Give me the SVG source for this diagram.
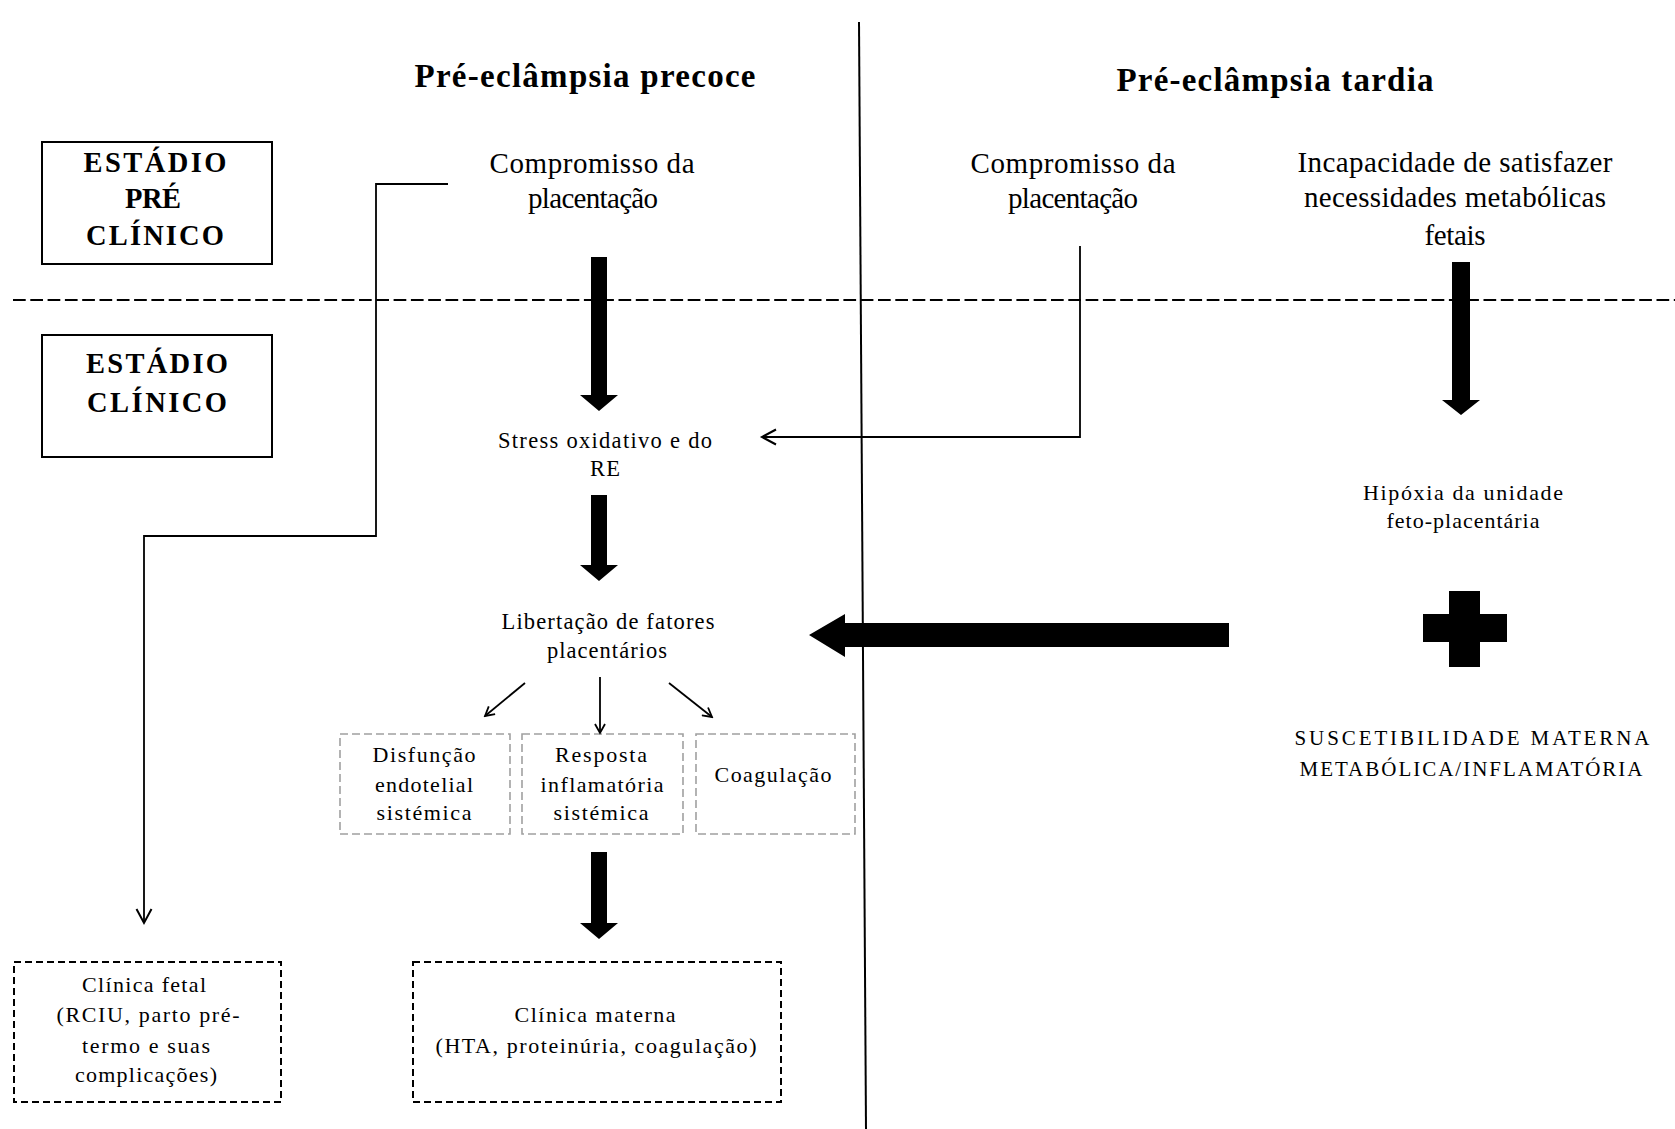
<svg xmlns="http://www.w3.org/2000/svg" width="1675" height="1129" viewBox="0 0 1675 1129">
<style>
  text { font-family: "Liberation Serif", "Times New Roman", serif; fill: #000; text-anchor: middle; }
  .title { font-size: 33px; font-weight: bold; }
  .stage { font-size: 28.5px; font-weight: bold; }
  .big { font-size: 29px; }
  .mid { font-size: 22.5px; }
  .small { font-size: 22px; }
  .caps { font-size: 21px; }
  .solidbox { fill: none; stroke: #000; stroke-width: 2; }
  .graybox { fill: none; stroke: #a0a0a0; stroke-width: 1.6; stroke-dasharray: 8 4; }
  .blackdash { fill: none; stroke: #000; stroke-width: 2; stroke-dasharray: 7 4; }
  .thin { fill: none; stroke: #000; stroke-width: 1.8; }
  .thick { fill: #000; stroke: none; }
</style>
<defs>
  <marker id="open" markerWidth="12" markerHeight="12" refX="10" refY="6" orient="auto" markerUnits="userSpaceOnUse">
    <path d="M1,1 L10,6 L1,11" fill="none" stroke="#000" stroke-width="1.8"/>
  </marker>
  <marker id="openBig" markerWidth="18" markerHeight="18" refX="15" refY="9" orient="auto" markerUnits="userSpaceOnUse">
    <path d="M1,1.5 L15,9 L1,16.5" fill="none" stroke="#000" stroke-width="2"/>
  </marker>
</defs>

<!-- background structure -->
<g id="dividers">
  <line x1="859" y1="22" x2="866" y2="1129" stroke="#000" stroke-width="2"/>
  <line x1="13" y1="300" x2="1675" y2="300" stroke="#000" stroke-width="2" stroke-dasharray="12.7 4.6"/>
</g>

<g id="titles">
  <text class="title" x="585" y="87" textLength="341">Pré-eclâmpsia precoce</text>
  <text class="title" x="1275" y="91" textLength="317">Pré-eclâmpsia tardia</text>
</g>

<g id="stage-preclinico">
  <rect class="solidbox" x="42" y="142" width="230" height="122"/>
  <text class="stage" x="155" y="172" textLength="143">ESTÁDIO</text>
  <text class="stage" x="153" y="208" textLength="56">PRÉ</text>
  <text class="stage" x="155" y="245" textLength="138">CLÍNICO</text>
</g>

<g id="stage-clinico">
  <rect class="solidbox" x="42" y="335" width="230" height="122"/>
  <text class="stage" x="157" y="373" textLength="142">ESTÁDIO</text>
  <text class="stage" x="157" y="412" textLength="140">CLÍNICO</text>
</g>

<g id="node-compromisso-precoce">
  <text class="big" x="592" y="173" textLength="205">Compromisso da</text>
  <text class="big" x="593" y="208" textLength="130">placentação</text>
</g>

<g id="node-compromisso-tardia">
  <text class="big" x="1073" y="173" textLength="205">Compromisso da</text>
  <text class="big" x="1073" y="208" textLength="130">placentação</text>
</g>

<g id="node-incapacidade">
  <text class="big" x="1455" y="172" textLength="315">Incapacidade  de satisfazer</text>
  <text class="big" x="1455" y="207" textLength="302">necessidades metabólicas</text>
  <text class="big" x="1455" y="245" textLength="61">fetais</text>
</g>

<g id="node-stress">
  <text class="mid" x="605" y="448" textLength="214">Stress oxidativo e do</text>
  <text class="mid" x="605" y="476" textLength="30">RE</text>
</g>

<g id="node-libertacao">
  <text class="mid" x="608" y="629" textLength="213">Libertação  de fatores</text>
  <text class="mid" x="607" y="658" textLength="120">placentários</text>
</g>

<g id="node-disfuncao">
  <rect class="graybox" x="340" y="734" width="170" height="100"/>
  <text class="small" x="424" y="762" textLength="103">Disfunção</text>
  <text class="small" x="424" y="792" textLength="98">endotelial</text>
  <text class="small" x="424" y="820" textLength="95">sistémica</text>
</g>

<g id="node-resposta">
  <rect class="graybox" x="522" y="734" width="161" height="100"/>
  <text class="small" x="601" y="762" textLength="92">Resposta</text>
  <text class="small" x="602" y="792" textLength="123">inflamatória</text>
  <text class="small" x="601" y="820" textLength="95">sistémica</text>
</g>

<g id="node-coagulacao">
  <rect class="graybox" x="696" y="734" width="159" height="100"/>
  <text class="small" x="773" y="782" textLength="117">Coagulação</text>
</g>

<g id="node-hipoxia">
  <text class="small" x="1463" y="500" textLength="200">Hipóxia da unidade</text>
  <text class="small" x="1463" y="528" textLength="153">feto-placentária</text>
</g>

<g id="node-plus">
  <rect class="thick" x="1449" y="591" width="31" height="76"/>
  <rect class="thick" x="1423" y="614" width="84" height="28"/>
</g>

<g id="node-suscetibilidade">
  <text class="caps" x="1472" y="745" textLength="355">SUSCETIBILIDADE  MATERNA</text>
  <text class="caps" x="1471" y="776" textLength="343">METABÓLICA/INFLAMATÓRIA</text>
</g>

<g id="node-clinica-fetal">
  <rect class="blackdash" x="14" y="962" width="267" height="140"/>
  <text class="small" x="144" y="992" textLength="124">Clínica fetal</text>
  <text class="small" x="148" y="1022" textLength="183">(RCIU, parto pré-</text>
  <text class="small" x="146" y="1053" textLength="128">termo e suas</text>
  <text class="small" x="146" y="1082" textLength="142">complicações)</text>
</g>

<g id="node-clinica-materna">
  <rect class="blackdash" x="413" y="962" width="368" height="140"/>
  <text class="small" x="595" y="1022" textLength="161">Clínica materna</text>
  <text class="small" x="596" y="1053" textLength="321">(HTA, proteinúria,  coagulação)</text>
</g>

<g id="connectors">
  <!-- thick down arrows -->
  <polygon class="thick" points="591,257 607,257 607,395 618,395 599,411 580,395 591,395"/>
  <polygon class="thick" points="591,495 607,495 607,565 618,565 599,581 580,565 591,565"/>
  <polygon class="thick" points="591,852 607,852 607,923 618,923 599,939 580,923 591,923"/>
  <polygon class="thick" points="1452,262 1470,262 1470,400 1480,400 1461,415 1442,400 1452,400"/>
  <!-- thick left arrow -->
  <polygon class="thick" points="1229,623 1229,647 845,647 845,657 809,635 845,614 845,623"/>
  <!-- thin connectors -->
  <polyline class="thin" points="448,184 376,184 376,536 144,536 144,923" marker-end="url(#openBig)"/>
  <polyline class="thin" points="1080,246 1080,437 762,437" marker-end="url(#openBig)"/>
  <line class="thin" x1="525" y1="683" x2="485" y2="716" marker-end="url(#open)"/>
  <line class="thin" x1="600" y1="677" x2="600" y2="733" marker-end="url(#open)"/>
  <line class="thin" x1="669" y1="683" x2="712" y2="717" marker-end="url(#open)"/>
</g>
</svg>
